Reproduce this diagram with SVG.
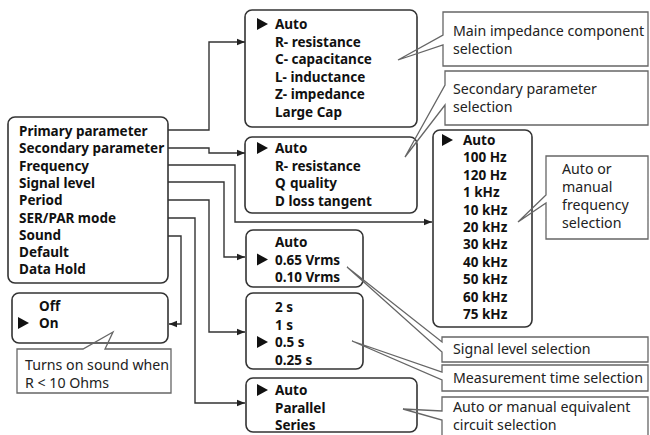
<svg xmlns="http://www.w3.org/2000/svg" width="650" height="435" viewBox="0 0 650 435">
<defs>
<marker id="ah" viewBox="0 0 10 10" refX="10" refY="5" markerWidth="8" markerHeight="8" markerUnits="userSpaceOnUse" orient="auto">
<path d="M0,1 L10,5 L0,9 Z" fill="#222"/>
</marker>
<style>
.box{fill:none;stroke:#333;stroke-width:1.6}
.co{fill:none;stroke:#666;stroke-width:1.3}
.conn{fill:none;stroke:#333;stroke-width:1.4;marker-end:url(#ah)}
.b{font-family:"Noto Sans","DejaVu Sans",sans-serif;font-weight:bold;font-size:13.5px;fill:#111}
.r{font-family:"Noto Sans","DejaVu Sans",sans-serif;font-size:14.2px;fill:#222}
.tri{fill:#111}
</style>
</defs>
<rect width="650" height="435" fill="#fff"/>

<g id="main">
<rect class="box" x="8" y="117" width="160" height="166" rx="7"/>
<text class="b" x="19" y="136">Primary parameter</text>
<text class="b" x="19" y="153.3">Secondary parameter</text>
<text class="b" x="19" y="170.6">Frequency</text>
<text class="b" x="19" y="187.9">Signal level</text>
<text class="b" x="19" y="205.2">Period</text>
<text class="b" x="19" y="222.5">SER/PAR mode</text>
<text class="b" x="19" y="239.8">Sound</text>
<text class="b" x="19" y="257.1">Default</text>
<text class="b" x="19" y="274.4">Data Hold</text>
</g>

<g id="primary">
<rect class="box" x="245" y="10" width="172" height="117" rx="7"/>
<polygon class="tri" points="257,18 268,24 257,30"/>
<text class="b" x="275" y="29">Auto</text>
<text class="b" x="275" y="46.5">R- resistance</text>
<text class="b" x="275" y="64">C- capacitance</text>
<text class="b" x="275" y="81.5">L- inductance</text>
<text class="b" x="275" y="99">Z- impedance</text>
<text class="b" x="275" y="116.5">Large Cap</text>
</g>

<g id="secondary">
<rect class="box" x="245" y="137" width="172" height="76" rx="7"/>
<polygon class="tri" points="257,142 268,148 257,154"/>
<text class="b" x="275" y="153">Auto</text>
<text class="b" x="275" y="170.5">R- resistance</text>
<text class="b" x="275" y="188">Q<tspan x="290">quality</tspan></text>
<text class="b" x="275" y="205.5">D loss tangent</text>
</g>

<g id="frequency">
<rect class="box" x="433" y="130" width="99" height="197" rx="7"/>
<polygon class="tri" points="442,134 453,140 442,146"/>
<text class="b" x="463" y="145">Auto</text>
<text class="b" x="463" y="162.4">100 Hz</text>
<text class="b" x="463" y="179.8">120 Hz</text>
<text class="b" x="463" y="197.2">1 kHz</text>
<text class="b" x="463" y="214.6">10 kHz</text>
<text class="b" x="463" y="232">20 kHz</text>
<text class="b" x="463" y="249.4">30 kHz</text>
<text class="b" x="463" y="266.8">40 kHz</text>
<text class="b" x="463" y="284.2">50 kHz</text>
<text class="b" x="463" y="301.6">60 kHz</text>
<text class="b" x="463" y="319">75 kHz</text>
</g>

<g id="signal">
<rect class="box" x="246" y="230" width="117" height="57" rx="7"/>
<polygon class="tri" points="257,253.5 268,259.5 257,265.5"/>
<text class="b" x="275" y="247">Auto</text>
<text class="b" x="275" y="264.5">0.65 Vrms</text>
<text class="b" x="275" y="282">0.10 Vrms</text>
</g>

<g id="period">
<rect class="box" x="246" y="293" width="117" height="76" rx="7"/>
<polygon class="tri" points="257,336 268,342 257,348"/>
<text class="b" x="275" y="312">2 s</text>
<text class="b" x="275" y="329.5">1 s</text>
<text class="b" x="275" y="347">0.5 s</text>
<text class="b" x="275" y="364.5">0.25 s</text>
</g>

<g id="serpar">
<rect class="box" x="246" y="378" width="171" height="54" rx="7"/>
<polygon class="tri" points="257,384 268,390 257,396"/>
<text class="b" x="275" y="395">Auto</text>
<text class="b" x="275" y="412.5">Parallel</text>
<text class="b" x="275" y="430">Series</text>
</g>

<g id="sound">
<rect class="box" x="12" y="293" width="156" height="50" rx="7"/>
<polygon class="tri" points="18,317 29,323 18,329"/>
<text class="b" x="39" y="311">Off</text>
<text class="b" x="39" y="328">On</text>
</g>

<g id="connectors">
<path class="conn" d="M168,130 H209 V42 H245"/>
<path class="conn" d="M168,148 H209 V153 H245"/>
<path class="conn" d="M168,165 H235 V222 H432"/>
<path class="conn" d="M168,182 H224 V257 H245"/>
<path class="conn" d="M168,200 H209 V332 H245"/>
<path class="conn" d="M168,218 H195 V403 H245"/>
<path class="conn" d="M168,236 H181 V324 H169"/>
</g>

<g id="callout-main">
<path class="co" d="M443,12 H648 V66 H443 V45 L398,60 L443,35 Z"/>
<text class="r" x="453" y="35.5">Main impedance component</text>
<text class="r" x="453" y="53.5">selection</text>
</g>
<g id="callout-secondary">
<path class="co" d="M445,71 H648 V125 H445 V105 L405,157 L445,85 Z"/>
<text class="r" x="453" y="94">Secondary parameter</text>
<text class="r" x="453" y="112">selection</text>
</g>
<g id="callout-frequency">
<path class="co" d="M546,156 H648 V239 H546 V203 L518,222 L546,195 Z"/>
<text class="r" x="562" y="174">Auto or</text>
<text class="r" x="562" y="192">manual</text>
<text class="r" x="562" y="210">frequency</text>
<text class="r" x="562" y="228">selection</text>
</g>
<g id="callout-signal">
<path class="co" d="M442,337 H648 V362 H442 V352 L347,267 L442,342 Z"/>
<text class="r" x="453" y="354">Signal level selection</text>
</g>
<g id="callout-time">
<path class="co" d="M442,365 H648 V391 H442 V380 L352,341 L442,372 Z"/>
<text class="r" x="453" y="383">Measurement time selection</text>
</g>
<g id="callout-circuit">
<path class="co" d="M442,397 H648 V440 H442 V420 L403,409 L442,411 Z"/>
<text class="r" x="453" y="411.5">Auto or manual equivalent</text>
<text class="r" x="453" y="429.5">circuit selection</text>
</g>
<g id="callout-sound">
<path class="co" d="M17,349 H83 L113,332 L105,349 H171 V393 H17 Z"/>
<text class="r" x="25" y="369.5">Turns on sound when</text>
<text class="r" x="25" y="387.5">R &lt; 10 Ohms</text>
</g>
</svg>
